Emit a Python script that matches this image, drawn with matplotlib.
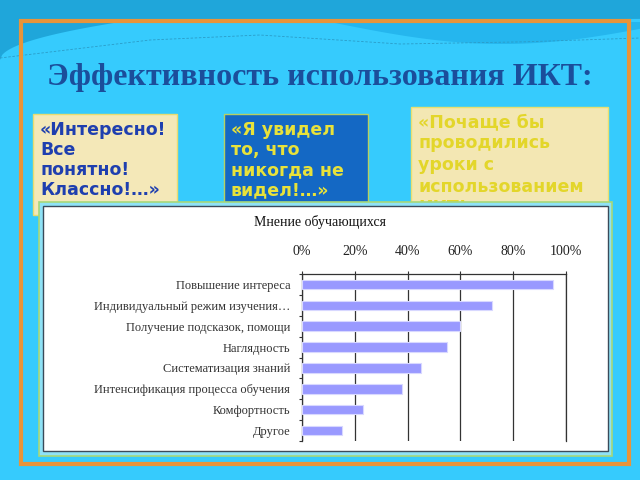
import numpy as np
import matplotlib
matplotlib.use("Agg")
import matplotlib.pyplot as plt
from matplotlib.patches import Rectangle, Polygon

# ---- data ----
categories = ["Повышение интереса",
              "Индивидуальный режим изучения…",
              "Получение подсказок, помощи",
              "Наглядность",
              "Систематизация знаний",
              "Интенсификация процесса обучения",
              "Комфортность",
              "Другое"]
values = [95, 72, 60, 55, 45, 38, 23, 15]
xticks = [0, 20, 40, 60, 80, 100]
xticklabels = ["0%", "20%", "40%", "60%", "80%", "100%"]
slide_title = "Эффективность использования ИКТ:"
chart_title = "Мнение обучающихся"
quote1 = ["«Интересно!", "Все", "понятно!", "Классно!…»"]
quote2 = ["«Я увидел", "то, что", "никогда не", "видел!…»"]
quote3 = ["«Почаще бы", "проводились", "уроки с", "использованием", "ИКТ!…»"]

W, H = 640, 480
fig = plt.figure(figsize=(6.4, 4.8), dpi=100)
fig.patch.set_facecolor("#36CBFD")

bg = fig.add_axes([0, 0, 1, 1])
bg.set_xlim(0, W)
bg.set_ylim(H, 0)
bg.axis("off")

# decorative top waves
xs = np.linspace(0, W, 300)
top_curve = np.where(xs < 120, 60 - 38 * np.sqrt(np.clip(xs / 120, 0, 1)), 22 - (xs - 120) * 0.006)
bg.add_patch(Polygon(np.column_stack([np.r_[xs, xs[::-1]],
                                      np.r_[top_curve, np.zeros_like(xs)]]),
                     closed=True, fc="#1FA6DA", ec="none", zorder=0))
wave2 = 22 + 22 * np.sin(np.clip((xs - 330) / 310, 0, 1) * np.pi * 0.9)
bg.fill_between(xs, 22, np.where(xs > 330, wave2, 22), color="#25B6EE", lw=0, zorder=0)
dash_y = np.interp(xs, [0, 150, 260, 400, 520, 640], [58, 40, 35, 44, 42, 38])
bg.plot(xs, dash_y, color="#2A9CC8", lw=0.6, ls=(0, (3, 2)), zorder=0.5)

# orange frame
bg.add_patch(Rectangle((21, 21), 608, 443, fill=False, ec="#E8943A", lw=3, zorder=1))

# slide title
bg.text(320, 78, slide_title, ha="center", va="center", fontsize=23,
        family="Liberation Serif", weight="bold", color="#1B4E9B", zorder=2)

# quote boxes
def quote_box(x0, y0, x1, y1, fc, ec, tc, lines, tx, ty, dy, fs):
    bg.add_patch(Rectangle((x0, y0), x1 - x0, y1 - y0, fc=fc, ec=ec, lw=1, zorder=2))
    for i, s in enumerate(lines):
        bg.text(tx, ty + i * dy, s, ha="left", va="center", fontsize=fs,
                family="DejaVu Sans", weight="bold", color=tc, zorder=3)

quote_box(33, 114, 177, 215, "#F4E8B8", "#E8DC70", "#1F3FAF", quote1, 40, 130, 20, 12.5)
quote_box(224, 114, 368, 215, "#1468C4", "#B8D060", "#E8E23A", quote2, 231, 130, 20, 12.5)
quote_box(411, 107, 608, 215, "#F3E7B3", "#E8E070", "#E3D62A", quote3, 418, 122, 21.5, 12.5)

# chart frame
bg.add_patch(Rectangle((38.5, 202), 573, 253.5, fc="#8FE2F6", ec="#A6D87A", lw=1.2, zorder=4))
bg.add_patch(Rectangle((43, 205.5), 565, 245.5, fc="white", ec="#3A4A5A", lw=1, zorder=5))
bg.text(320, 222, chart_title, ha="center", va="center", fontsize=10,
        family="Liberation Serif", color="#111111", zorder=6)

# bar chart
left, right, top, bottom = 302, 566, 274, 441
ax = fig.add_axes([left / W, 1 - bottom / H, (right - left) / W, (bottom - top) / H])
ax.set_zorder(10)
ax.patch.set_alpha(0)
y = np.arange(len(categories))
ax.barh(y, values, height=0.45, color="#9999FF", edgecolor="#D8D8FF", lw=0.8, zorder=3)
ax.set_xlim(0, 100)
ax.set_ylim(len(categories) - 0.5, -0.5)
ax.xaxis.tick_top()
ax.set_xticks(xticks)
ax.set_xticklabels(xticklabels, family="Liberation Serif", fontsize=10, color="#222222")
ax.tick_params(axis="x", length=2.5, width=0.8, pad=9, color="#333333")
ax.set_yticks(y)
ax.set_yticklabels(categories, family="Liberation Serif", fontsize=9, color="#333333")
ax.tick_params(axis="y", length=0, pad=8.5)
ax.set_yticks(np.arange(len(categories) + 1) - 0.5, minor=True)
ax.tick_params(axis="y", which="minor", length=2.5, width=0.8, color="#333333")
ax.grid(axis="x", color="#333333", lw=0.9, zorder=1)
ax.spines["bottom"].set_visible(False)
for s in ["top", "left", "right"]:
    ax.spines[s].set_color("#333333")
    ax.spines[s].set_linewidth(0.9)

fig.savefig("out.png", dpi=100)
